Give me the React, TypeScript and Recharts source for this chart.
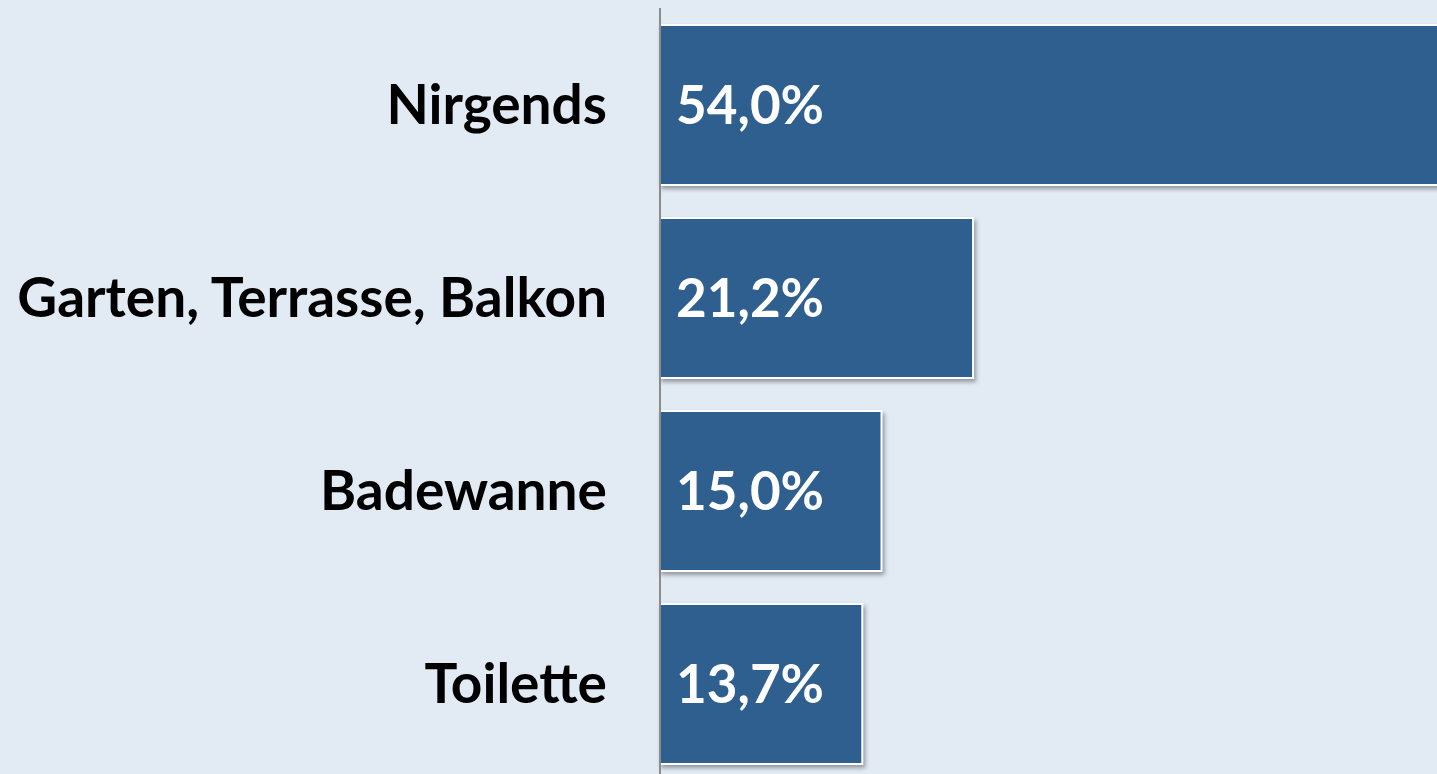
import { BarChart, Bar, XAxis, YAxis, LabelList } from "recharts";

const categories = ["Nirgends", "Garten, Terrasse, Balkon", "Badewanne", "Toilette"];
const shares = [54.0, 21.2, 15.0, 13.7];

const data = categories.map((name, i) => ({ name, value: shares[i] }));

const fmt = (v: number) => v.toFixed(1).replace(".", ",") + "%";

const ShadowBar = (props: any) => {
  const { x, y, width, height } = props;
  return (
    <rect
      x={x}
      y={y}
      width={width}
      height={height}
      fill="#2E5F8F"
      stroke="#ffffff"
      strokeWidth={2}
      style={{ filter: "drop-shadow(2px 3px 2px rgba(0,0,0,0.35))" }}
    />
  );
};

const App = () => {
  return (
    <div
      style={{
        position: "absolute",
        left: 0,
        top: 0,
        width: 1437,
        height: 774,
        overflow: "hidden",
        background: "#E2EAF4",
      }}
    >
      <BarChart
        layout="vertical"
        width={1546}
        height={800}
        data={data}
        barSize={160}
        margin={{ top: 8, right: 0, bottom: 20, left: 0 }}
      >
        <XAxis type="number" domain={[0, 60]} hide />
        <YAxis
          type="category"
          dataKey="name"
          width={660}
          tickLine={false}
          axisLine={{ stroke: "#8C8C8C", strokeWidth: 2 }}
          tickMargin={47}
          tick={{ fill: "#000", fontSize: 55, fontWeight: 700, fontFamily: "Lato" }}
        />
        <Bar dataKey="value" shape={<ShadowBar />} isAnimationActive={false}>
          <LabelList
            dataKey="value"
            position="insideLeft"
            offset={16}
            formatter={(v: any) => fmt(Number(v))}
            style={{ fill: "#fff", fontSize: 53, fontWeight: 700, fontFamily: "Lato" }}
          />
        </Bar>
      </BarChart>
    </div>
  );
};

export default App;
